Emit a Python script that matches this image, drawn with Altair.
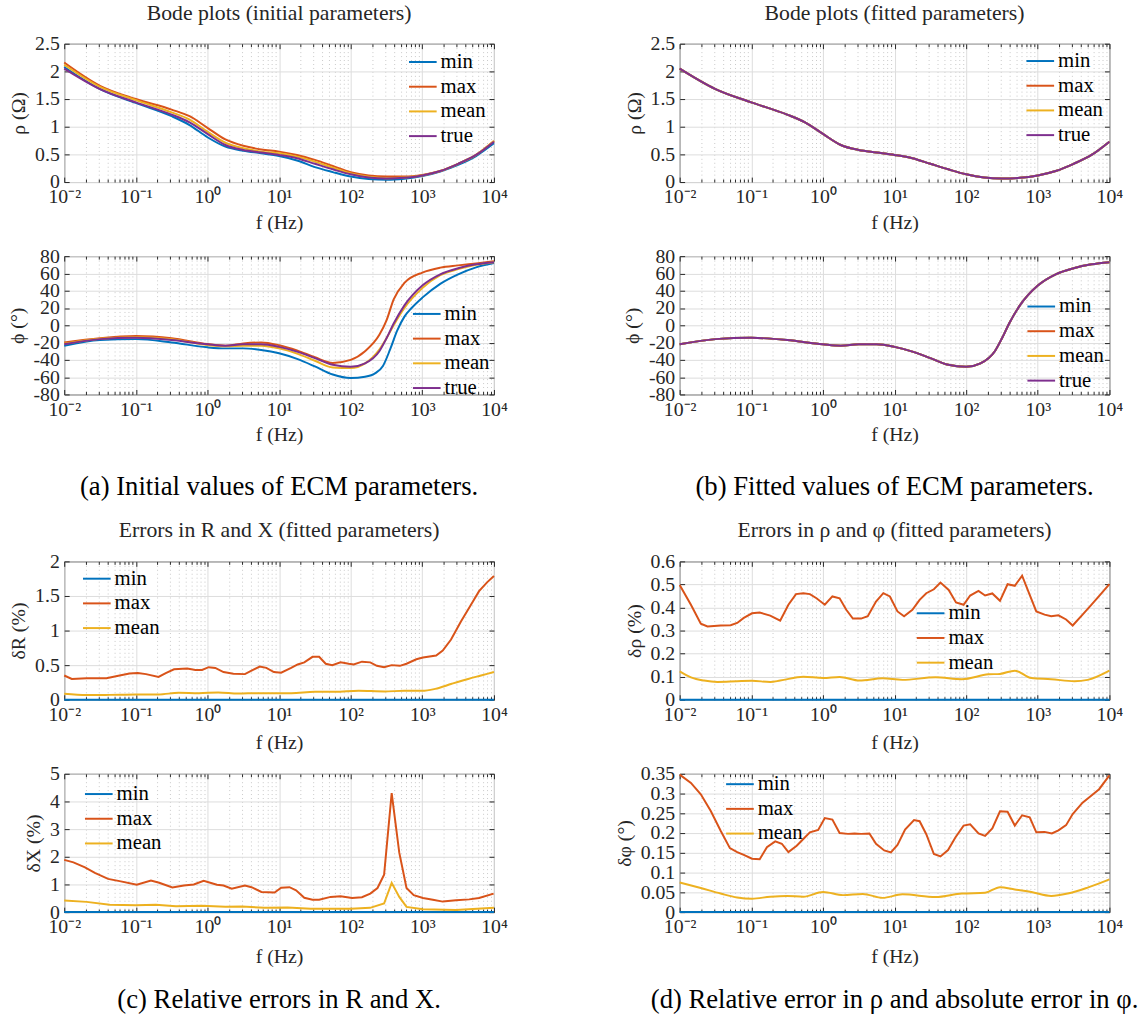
import altair as alt
import pandas as pd

FONT = "Liberation Serif"
INK = "#262626"
PALETTE = {"min": "#0072BD", "max": "#D95319", "mean": "#EDB120", "true": "#7E2F8E"}

# ---------------- data (log10 f in Hz, values) ----------------
# (a) rho, initial parameters
RHO_LOGF = [-2, -1.5, -1, -0.5, -0.25, 0, 0.25, 0.5, 0.75, 1, 1.25, 1.5, 1.75, 2, 2.25, 2.5, 2.75, 3, 3.25, 3.5, 3.75, 4]
RHO_I_MIN = [2.08, 1.68, 1.43, 1.19, 1.03, 0.81, 0.64, 0.565, 0.52, 0.47, 0.39, 0.27, 0.18, 0.10, 0.054, 0.04, 0.06, 0.107, 0.19, 0.31, 0.47, 0.70]
RHO_I_MAX = [2.16, 1.74, 1.50, 1.31, 1.19, 0.98, 0.77, 0.655, 0.59, 0.55, 0.49, 0.40, 0.29, 0.18, 0.12, 0.10, 0.10, 0.13, 0.20, 0.33, 0.49, 0.74]
RHO_I_MEAN = [2.12, 1.72, 1.48, 1.26, 1.13, 0.91, 0.71, 0.61, 0.55, 0.52, 0.46, 0.37, 0.26, 0.155, 0.095, 0.07, 0.083, 0.12, 0.20, 0.33, 0.49, 0.74]
RHO_TRUE = [2.05, 1.68, 1.44, 1.22, 1.08, 0.87, 0.67, 0.58, 0.535, 0.49, 0.43, 0.33, 0.23, 0.14, 0.083, 0.065, 0.077, 0.12, 0.20, 0.33, 0.49, 0.73]
# (b) rho, fitted parameters (all four curves coincide)
RHO_FIT = [2.05, 1.68, 1.44, 1.22, 1.08, 0.87, 0.67, 0.58, 0.535, 0.49, 0.43, 0.33, 0.23, 0.14, 0.083, 0.065, 0.077, 0.12, 0.20, 0.33, 0.49, 0.73]

# (a) phi, initial parameters
PHI_LOGF = [-2, -1.5, -1, -0.5, 0, 0.25, 0.5, 0.75, 1, 1.25, 1.5, 1.75, 2, 2.2, 2.4, 2.5, 2.6, 2.75, 3, 3.25, 3.5, 3.75, 4]
PHI_I_MAX = [-20, -15, -12.5, -15, -21.7, -23.6, -21, -19.8, -23, -29, -37, -43.5, -40, -30, -11, 5.7, 30, 49, 61, 66.7, 69.3, 71.6, 74]
PHI_I_MEAN = [-21.3, -15.5, -13.7, -16, -22.9, -24.4, -23.6, -23.6, -26.7, -32.8, -41, -48.8, -49.5, -44, -28, -15, 0, 20, 43, 58, 65, 70, 73]
PHI_TRUE = [-22, -16, -14.5, -17, -22, -23.6, -22, -22, -25, -30.5, -38, -45.7, -48, -44, -30, -15, 2, 23, 46, 59, 66, 70.5, 73]
PHI_MIN_LOGF = [-2, -1.5, -1, -0.5, 0, 0.25, 0.5, 0.75, 1, 1.25, 1.5, 1.75, 2, 2.2, 2.35, 2.45, 2.55, 2.65, 2.75, 2.85, 3, 3.25, 3.5, 3.75, 4]
PHI_I_MIN = [-23.6, -17, -16, -19.8, -25.5, -26.7, -26.7, -28.6, -32.4, -38.9, -47.6, -57, -61, -59.5, -55, -47, -28, -6, 10, 20, 32, 48, 59, 67, 72]
# (b) phi, fitted parameters
PHI_FIT = [-22, -16, -14.5, -17, -22, -23.6, -22, -22, -25, -30.5, -38, -45.7, -48, -44, -30, -15, 2, 23, 46, 59, 66, 70.5, 73]

# (c) relative error in R
EDGE_LOGF = [-2, 4]
ZERO = [0, 0]
DR_MAX_LOGF = [-2, -1.894, -1.687, -1.41, -1.227, -1.088, -0.973, -0.858, -0.683, -0.582, -0.467, -0.283, -0.168, -0.076, 0.017, 0.109, 0.224, 0.362, 0.523, 0.615, 0.73, 0.822, 0.928, 1.029, 1.168, 1.26, 1.352, 1.467, 1.559, 1.651, 1.743, 1.858, 1.973, 2.042, 2.157, 2.273, 2.365, 2.466, 2.572, 2.687, 2.779, 2.917, 3.009, 3.193, 3.285, 3.401, 3.539, 3.677, 3.792, 3.907, 4.0]
DR_MAX = [0.35, 0.30, 0.31, 0.31, 0.35, 0.38, 0.385, 0.37, 0.33, 0.385, 0.44, 0.45, 0.43, 0.43, 0.47, 0.46, 0.40, 0.376, 0.37, 0.42, 0.48, 0.46, 0.40, 0.39, 0.46, 0.51, 0.54, 0.62, 0.62, 0.52, 0.50, 0.54, 0.52, 0.51, 0.55, 0.54, 0.49, 0.47, 0.50, 0.49, 0.52, 0.585, 0.61, 0.64, 0.71, 0.87, 1.13, 1.37, 1.57, 1.70, 1.79]
DR_MEAN_LOGF = [-2, -1.687, -1.37, -1.0, -0.683, -0.4, -0.12, 0.15, 0.43, 0.7, 1.0, 1.17, 1.5, 1.78, 2.11, 2.47, 2.75, 3.0, 3.18, 3.41, 3.64, 3.82, 4.0]
DR_MEAN = [0.085, 0.067, 0.07, 0.076, 0.076, 0.10, 0.095, 0.105, 0.09, 0.095, 0.095, 0.095, 0.114, 0.114, 0.13, 0.12, 0.128, 0.128, 0.157, 0.23, 0.30, 0.35, 0.40]

# (c) relative error in X
DX_MAX_LOGF = [-2, -1.871, -1.71, -1.572, -1.388, -1.227, -0.987, -0.789, -0.674, -0.49, -0.329, -0.191, -0.053, 0.132, 0.224, 0.339, 0.523, 0.615, 0.753, 0.937, 1.029, 1.145, 1.237, 1.352, 1.467, 1.559, 1.72, 1.858, 2.019, 2.157, 2.273, 2.374, 2.466, 2.572, 2.678, 2.779, 2.88, 3.009, 3.147, 3.285, 3.47, 3.654, 3.792, 3.995]
DX_MAX = [1.89, 1.80, 1.62, 1.42, 1.20, 1.12, 0.99, 1.14, 1.06, 0.89, 0.96, 1.0, 1.13, 0.99, 0.96, 0.85, 0.96, 0.90, 0.73, 0.71, 0.88, 0.90, 0.79, 0.52, 0.45, 0.45, 0.55, 0.57, 0.51, 0.54, 0.67, 0.87, 1.35, 4.30, 2.15, 0.87, 0.61, 0.51, 0.45, 0.38, 0.43, 0.46, 0.51, 0.67]
DX_MEAN_LOGF = [-2, -1.687, -1.365, -1.0, -0.72, -0.44, -0.08, 0.25, 0.48, 0.8, 1.12, 1.44, 2.0, 2.27, 2.466, 2.572, 2.678, 2.779, 3.009, 3.47, 4.0]
DX_MEAN = [0.42, 0.37, 0.27, 0.25, 0.27, 0.21, 0.23, 0.19, 0.20, 0.155, 0.17, 0.12, 0.12, 0.155, 0.31, 1.06, 0.55, 0.19, 0.10, 0.08, 0.155]

# (d) relative error in rho
DRHO_MAX_LOGF = [-2, -1.843, -1.705, -1.612, -1.428, -1.289, -1.197, -1.105, -0.99, -0.883, -0.736, -0.597, -0.482, -0.376, -0.274, -0.182, -0.09, 0.026, 0.132, 0.233, 0.326, 0.418, 0.533, 0.626, 0.741, 0.843, 0.935, 1.041, 1.133, 1.249, 1.35, 1.443, 1.549, 1.641, 1.756, 1.858, 1.964, 2.056, 2.172, 2.264, 2.365, 2.472, 2.578, 2.679, 2.781, 2.887, 2.979, 3.095, 3.187, 3.288, 3.395, 3.487, 3.625, 3.741, 3.879, 4.0]
DRHO_MAX = [0.498, 0.412, 0.33, 0.318, 0.322, 0.323, 0.333, 0.355, 0.375, 0.378, 0.365, 0.343, 0.412, 0.458, 0.462, 0.458, 0.44, 0.412, 0.448, 0.44, 0.39, 0.352, 0.352, 0.362, 0.426, 0.462, 0.448, 0.383, 0.362, 0.39, 0.433, 0.462, 0.479, 0.508, 0.476, 0.422, 0.412, 0.452, 0.472, 0.452, 0.461, 0.429, 0.501, 0.494, 0.538, 0.455, 0.383, 0.369, 0.362, 0.366, 0.348, 0.322, 0.369, 0.409, 0.458, 0.501]
DRHO_MEAN_LOGF = [-2, -1.843, -1.66, -1.474, -1.197, -0.99, -0.736, -0.597, -0.274, 0.003, 0.233, 0.51, 0.833, 1.11, 1.572, 1.94, 2.31, 2.472, 2.679, 2.91, 3.187, 3.51, 3.695, 4.0]
DRHO_MEAN = [0.123, 0.097, 0.083, 0.077, 0.08, 0.082, 0.077, 0.083, 0.10, 0.094, 0.099, 0.083, 0.093, 0.086, 0.097, 0.089, 0.11, 0.112, 0.126, 0.094, 0.089, 0.08, 0.086, 0.126]

# (d) absolute error in phi
DPHI_MAX_LOGF = [-2, -1.843, -1.705, -1.566, -1.428, -1.299, -1.197, -1.105, -0.99, -0.883, -0.782, -0.666, -0.574, -0.482, -0.366, -0.274, -0.182, -0.066, 0.026, 0.132, 0.233, 0.349, 0.441, 0.533, 0.649, 0.741, 0.856, 0.949, 1.041, 1.147, 1.272, 1.35, 1.443, 1.549, 1.641, 1.747, 1.849, 1.964, 2.056, 2.172, 2.264, 2.365, 2.472, 2.578, 2.679, 2.781, 2.887, 2.979, 3.095, 3.196, 3.288, 3.395, 3.487, 3.625, 3.741, 3.856, 4.0]
DPHI_MAX = [0.348, 0.327, 0.298, 0.256, 0.206, 0.162, 0.152, 0.145, 0.135, 0.134, 0.164, 0.179, 0.173, 0.152, 0.168, 0.185, 0.202, 0.208, 0.238, 0.234, 0.20, 0.198, 0.199, 0.198, 0.199, 0.173, 0.156, 0.151, 0.17, 0.209, 0.233, 0.23, 0.197, 0.147, 0.141, 0.157, 0.189, 0.219, 0.222, 0.199, 0.193, 0.212, 0.255, 0.254, 0.219, 0.245, 0.24, 0.202, 0.203, 0.199, 0.207, 0.22, 0.248, 0.277, 0.294, 0.311, 0.346]
DPHI_MEAN_LOGF = [-2, -1.705, -1.428, -1.197, -0.99, -0.736, -0.505, -0.274, 0.003, 0.28, 0.556, 0.833, 1.11, 1.572, 1.94, 2.264, 2.472, 2.679, 2.91, 3.187, 3.418, 3.695, 4.0]
DPHI_MEAN = [0.075, 0.061, 0.047, 0.037, 0.034, 0.039, 0.041, 0.039, 0.051, 0.043, 0.046, 0.036, 0.045, 0.038, 0.047, 0.049, 0.063, 0.057, 0.051, 0.041, 0.047, 0.062, 0.083]

# ---------------- helpers ----------------
def frame(logf, vals, name):
    return pd.DataFrame({"f": [10.0 ** e for e in logf], "v": vals, "s": name})

XMAJOR = [0.01, 0.1, 1, 10, 100, 1000, 10000]
XMINOR = [m * 10.0 ** k for k in range(-2, 4) for m in range(2, 10)]
XLABEL = ("['10\u207b\u00b2','10\u207b\u00b9','10\u2070','10\u00b9','10\u00b2','10\u00b3','10\u2074']"
          "[round(log(datum.value)/LN10)+2]")
W, H = 435, 140
GRID = "#dcdcdc"


def panel(series, ydom, yvals, ytitle, lx, ly, title=None, caption=None,
          title_offset=2, caption_offset=43, xtitle_pad=6):
    names = [s[0] for s in series]
    xs = alt.Scale(type="log", domain=[0.01, 10000], nice=False)
    ys = alt.Scale(domain=ydom, nice=False, zero=False)
    cs = alt.Scale(domain=names, range=[PALETTE[n] for n in names])
    legend = alt.Legend(orient="none", legendX=lx, legendY=ly, title=None, direction="vertical",
                        symbolType="stroke", symbolSize=784, symbolStrokeWidth=2,
                        labelFont=FONT, labelFontSize=21, labelColor="#000000",
                        labelOffset=3, rowPadding=0, padding=0)
    xaxis = alt.Axis(values=XMAJOR, labelExpr=XLABEL, title="f (Hz)", orient="bottom",
                     grid=True, gridColor=GRID, ticks=False, domain=False, labelPadding=5,
                     titlePadding=xtitle_pad, labelFlush=False, labelOverlap=False)
    yaxis = alt.Axis(values=yvals, labelExpr="'' + datum.value", title=ytitle, orient="left",
                     grid=True, gridColor=GRID, ticks=False, domain=False, labelPadding=5,
                     titlePadding=6, labelOverlap=False)
    layers = []
    base_df = series[0][1]
    # minor x grid
    layers.append(alt.Chart(base_df).mark_point(opacity=0).encode(
        x=alt.X("f:Q", scale=xs, axis=alt.Axis(values=XMINOR, orient="bottom", grid=True, gridColor="#c8c8c8",
                                                gridDash=[1, 3], labels=False, ticks=False, domain=False, title=None)),
        y=alt.Y("v:Q", scale=ys, axis=None)))
    for i, (name, df, interp) in enumerate(series):
        layers.append(alt.Chart(df).mark_line(strokeWidth=2, interpolate=interp, clip=False).encode(
            x=alt.X("f:Q", scale=xs, axis=xaxis if i == 0 else None),
            y=alt.Y("v:Q", scale=ys, axis=yaxis if i == 0 else None),
            color=alt.Color("s:N", scale=cs, legend=legend)))

    def tick_axis(vals, orient, size):
        return alt.Axis(values=vals, orient=orient, offset=-size, tickSize=size, ticks=True, labels=False,
                        domain=False, grid=False, title=None, tickColor=INK, tickWidth=1)

    layers.append(alt.Chart(base_df).mark_point(opacity=0).encode(
        x=alt.X("f:Q", scale=xs, axis=tick_axis(XMAJOR, "bottom", 5)),
        y=alt.Y("v:Q", scale=ys, axis=tick_axis(yvals, "left", 5))))
    layers.append(alt.Chart(base_df).mark_point(opacity=0).encode(
        x=alt.X("f:Q", scale=xs, axis=tick_axis(XMAJOR, "top", 5)),
        y=alt.Y("v:Q", scale=ys, axis=tick_axis(yvals, "right", 5))))
    layers.append(alt.Chart(base_df).mark_point(opacity=0).encode(
        x=alt.X("f:Q", scale=xs, axis=tick_axis(XMINOR, "bottom", 3)),
        y=alt.Y("v:Q", scale=ys, axis=None)))
    layers.append(alt.Chart(base_df).mark_point(opacity=0).encode(
        x=alt.X("f:Q", scale=xs, axis=tick_axis(XMINOR, "top", 3)),
        y=alt.Y("v:Q", scale=ys, axis=None)))

    ch = alt.layer(*layers).resolve_axis(x="independent", y="independent").properties(width=W, height=H)
    if title is not None:
        ch = ch.properties(title=alt.TitleParams(text=title, orient="top", offset=title_offset, baseline="middle",
                                                 anchor="middle", font=FONT, fontSize=22,
                                                 fontWeight="normal", color=INK))
    if caption is not None:
        ch = ch.properties(title=alt.TitleParams(text=caption, orient="bottom", offset=caption_offset,
                                                 baseline="middle", anchor="middle", font=FONT, fontSize=27,
                                                 fontWeight="normal", color="#000000"))
    return ch


def spacer():
    return alt.Chart(pd.DataFrame({"a": [0]})).mark_point(opacity=0).encode(
        x=alt.X("a:Q", axis=None), y=alt.Y("a:Q", axis=None)
    ).properties(width=W, height=19, view=alt.ViewBackground(stroke="transparent"))


RHO_AX = [0, 0.5, 1, 1.5, 2, 2.5]
PHI_AX = [-80, -60, -40, -20, 0, 20, 40, 60, 80]

p_rho_i = panel([
    ("min", frame(RHO_LOGF, RHO_I_MIN, "min"), "monotone"),
    ("max", frame(RHO_LOGF, RHO_I_MAX, "max"), "monotone"),
    ("mean", frame(RHO_LOGF, RHO_I_MEAN, "mean"), "monotone"),
    ("true", frame(RHO_LOGF, RHO_TRUE, "true"), "monotone"),
], [0, 2.5], RHO_AX, "\u03c1 (\u03a9)", 348, 3.5, title="Bode plots (initial parameters)", title_offset=-1)

p_rho_f = panel([
    ("min", frame(RHO_LOGF, RHO_FIT, "min"), "monotone"),
    ("max", frame(RHO_LOGF, RHO_FIT, "max"), "monotone"),
    ("mean", frame(RHO_LOGF, RHO_FIT, "mean"), "monotone"),
    ("true", frame(RHO_LOGF, RHO_FIT, "true"), "monotone"),
], [0, 2.5], RHO_AX, "\u03c1 (\u03a9)", 350, 2.5, title="Bode plots (fitted parameters)", title_offset=-1)

p_phi_i = panel([
    ("min", frame(PHI_MIN_LOGF, PHI_I_MIN, "min"), "monotone"),
    ("max", frame(PHI_LOGF, PHI_I_MAX, "max"), "monotone"),
    ("mean", frame(PHI_LOGF, PHI_I_MEAN, "mean"), "monotone"),
    ("true", frame(PHI_LOGF, PHI_TRUE, "true"), "monotone"),
], [-80, 80], PHI_AX, "\u03d5 (\u00b0)", 352, 43.5, caption="(a) Initial values of ECM parameters.")

p_phi_f = panel([
    ("min", frame(PHI_LOGF, PHI_FIT, "min"), "monotone"),
    ("max", frame(PHI_LOGF, PHI_FIT, "max"), "monotone"),
    ("mean", frame(PHI_LOGF, PHI_FIT, "mean"), "monotone"),
    ("true", frame(PHI_LOGF, PHI_FIT, "true"), "monotone"),
], [-80, 80], PHI_AX, "\u03d5 (\u00b0)", 351, 36, caption="(b) Fitted values of ECM parameters.")

p_dr = panel([
    ("min", frame(EDGE_LOGF, ZERO, "min"), "linear"),
    ("max", frame(DR_MAX_LOGF, DR_MAX, "max"), "linear"),
    ("mean", frame(DR_MEAN_LOGF, DR_MEAN, "mean"), "monotone"),
], [0, 2], [0, 0.5, 1, 1.5, 2], "\u03b4R (%)", 18, 2.5, title="Errors in R and X (fitted parameters)",
    title_offset=0, xtitle_pad=8)

p_drho = panel([
    ("min", frame(EDGE_LOGF, ZERO, "min"), "linear"),
    ("max", frame(DRHO_MAX_LOGF, DRHO_MAX, "max"), "linear"),
    ("mean", frame(DRHO_MEAN_LOGF, DRHO_MEAN, "mean"), "monotone"),
], [0, 0.6], [0, 0.1, 0.2, 0.3, 0.4, 0.5, 0.6], "\u03b4\u03c1 (%)", 239, 37.5,
    title="Errors in \u03c1 and \u03c6 (fitted parameters)", title_offset=0, xtitle_pad=8)

p_dx = panel([
    ("min", frame(EDGE_LOGF, ZERO, "min"), "linear"),
    ("max", frame(DX_MAX_LOGF, DX_MAX, "max"), "linear"),
    ("mean", frame(DX_MEAN_LOGF, DX_MEAN, "mean"), "linear"),
], [0, 5], [0, 1, 2, 3, 4, 5], "\u03b4X (%)", 20, 5.5, caption="(c) Relative errors in R and X.",
    caption_offset=34, xtitle_pad=10)

p_dphi = panel([
    ("min", frame(EDGE_LOGF, ZERO, "min"), "linear"),
    ("max", frame(DPHI_MAX_LOGF, DPHI_MAX, "max"), "linear"),
    ("mean", frame(DPHI_MEAN_LOGF, DPHI_MEAN, "mean"), "monotone"),
], [0, 0.35], [0, 0.05, 0.1, 0.15, 0.2, 0.25, 0.3, 0.35], "\u03b4\u03c6 (\u00b0)", 46, -4.5,
    caption="(d) Relative error in \u03c1 and absolute error in \u03c6.", caption_offset=34, xtitle_pad=10)

chart = alt.concat(
    p_rho_i, p_rho_f, p_phi_i, p_phi_f, spacer(), spacer(), p_dr, p_drho, p_dx, p_dphi,
    columns=2, spacing={"row": 75, "column": 188}, bounds="flush"
).resolve_scale(
    color="independent", x="independent", y="independent"
).resolve_legend(color="independent").properties(
    padding={"left": 6, "top": -5, "right": 5, "bottom": 5}, background="white"
).configure_view(
    stroke=INK, strokeWidth=1
).configure_axis(
    labelFont=FONT, titleFont=FONT, labelFontSize=20, titleFontSize=20, labelColor=INK, titleColor=INK,
    titleFontWeight="normal"
)

chart.save("out.html", embed_options={"renderer": "svg", "actions": False})
